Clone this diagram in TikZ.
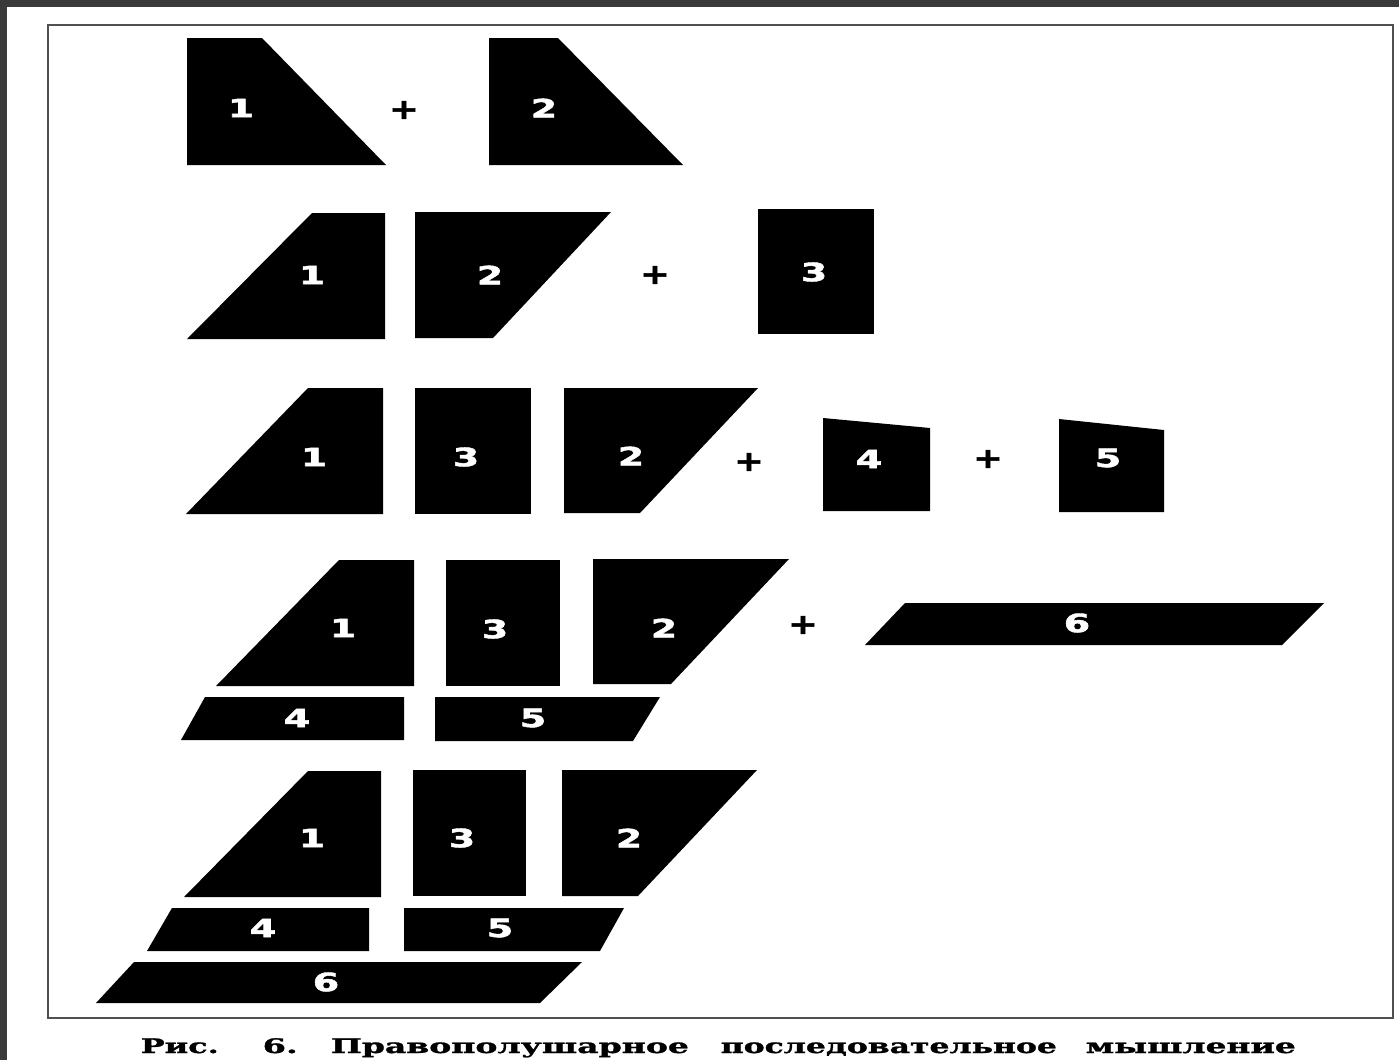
\documentclass[tikz,border=0pt]{standalone}
\usepackage{fontspec}
\usepackage{graphicx}
\newfontfamily\numfont{DejaVu Sans}[BoldFeatures={FakeBold=1.6}]
\newfontfamily\capfont{DejaVu Serif}[BoldFeatures={FakeBold=1.2}]
\definecolor{band}{HTML}{3A3A3A}
\definecolor{frameline}{HTML}{505050}
\tikzset{
  piece/.style={fill=black},
  lbl/.style={text=white, inner sep=0pt, font=\numfont\bfseries\fontsize{7.2pt}{8pt}\selectfont},
  plussign/.style={text=black, inner sep=0pt, font=\numfont\bfseries\fontsize{8pt}{9pt}\selectfont},
  capword/.style={anchor=base west, inner sep=0pt, font=\capfont\bfseries}
}
\newcommand\dg[1]{\scalebox{1.5}[1]{#1}}
\newcommand\pl{\scalebox{1.25}[1]{+}}
\newcommand\cw[2]{\resizebox{#1}{0.155cm}{\vphantom{Пб}#2}}
\begin{document}
\begin{tikzpicture}[x=0.01cm,y=-0.01cm]
\useasboundingbox (0,0) rectangle (1399,1060);
\fill[white] (0,0) rectangle (1399,1060);
% dark scan bands
\fill[band] (0,0) rectangle (1399,7);
\fill[band] (0,0) rectangle (7,1060);
% frame
\draw[frameline, line width=0.6pt] (48,25) rectangle (1393,1018);

% Row 1
\fill[piece] (187,38) -- (262,38) -- (386,165) -- (187,165) -- cycle;
\node[lbl] (a1) at (241,108) {\dg{1}};
\node[plussign] (ap1) at (404,110) {\pl};
\fill[piece] (489,38) -- (558,38) -- (683,165) -- (489,165) -- cycle;
\node[lbl] (a2) at (544,108) {\dg{2}};

% Row 2
\fill[piece] (312,213) -- (385,213) -- (385,339) -- (187,339) -- cycle;
\node[lbl] (b1) at (312,275) {\dg{1}};
\fill[piece] (415,212) -- (611,212) -- (493,338) -- (415,338) -- cycle;
\node[lbl] (b2) at (490,275) {\dg{2}};
\node[plussign] (bp1) at (655,275) {\pl};
\fill[piece] (758,209) -- (874,209) -- (874,334) -- (758,334) -- cycle;
\node[lbl] (b3) at (814,272) {\dg{3}};

% Row 3
\fill[piece] (308,388) -- (383,388) -- (383,514) -- (186,514) -- cycle;
\node[lbl] (c1) at (314,457) {\dg{1}};
\fill[piece] (415,388) -- (531,388) -- (531,514) -- (415,514) -- cycle;
\node[lbl] (c3) at (466,457) {\dg{3}};
\fill[piece] (564,388) -- (758,388) -- (640,513) -- (564,513) -- cycle;
\node[lbl] (c2) at (631,456) {\dg{2}};
\node[plussign] (cp1) at (749,462) {\pl};
\fill[piece] (823,418) -- (930,428) -- (930,511) -- (823,511) -- cycle;
\node[lbl] (c4) at (869,459) {\dg{4}};
\node[plussign] (cp2) at (988,459) {\pl};
\fill[piece] (1059,419) -- (1164,430) -- (1164,512) -- (1059,512) -- cycle;
\node[lbl] (c5) at (1108,458) {\dg{5}};

% Row 4
\fill[piece] (339,560) -- (414,560) -- (414,686) -- (216,686) -- cycle;
\node[lbl] (d1) at (343,628) {\dg{1}};
\fill[piece] (446,560) -- (560,560) -- (560,686) -- (446,686) -- cycle;
\node[lbl] (d3) at (495,629) {\dg{3}};
\fill[piece] (593,559) -- (789,559) -- (671,684) -- (593,684) -- cycle;
\node[lbl] (d2) at (664,628) {\dg{2}};
\node[plussign] (dp1) at (803,625) {\pl};
\fill[piece] (905,603) -- (1324,603) -- (1282,645) -- (865,645) -- cycle;
\node[lbl] (d6) at (1077,623) {\dg{6}};
\fill[piece] (205,697) -- (404,697) -- (404,740) -- (181,740) -- cycle;
\node[lbl] (d4) at (297,718) {\dg{4}};
\fill[piece] (435,697) -- (660,697) -- (633,741) -- (435,741) -- cycle;
\node[lbl] (d5) at (533,718) {\dg{5}};

% Row 5
\fill[piece] (308,771) -- (381,771) -- (381,897) -- (184,897) -- cycle;
\node[lbl] (e1) at (312,838) {\dg{1}};
\fill[piece] (413,770) -- (526,770) -- (526,896) -- (413,896) -- cycle;
\node[lbl] (e3) at (462,838) {\dg{3}};
\fill[piece] (562,770) -- (757,770) -- (638,896) -- (562,896) -- cycle;
\node[lbl] (e2) at (629,838) {\dg{2}};
\fill[piece] (172,908) -- (369,908) -- (369,951) -- (147,951) -- cycle;
\node[lbl] (e4) at (263,928) {\dg{4}};
\fill[piece] (404,908) -- (624,908) -- (600,951) -- (404,951) -- cycle;
\node[lbl] (e5) at (500,928) {\dg{5}};
\fill[piece] (134,962) -- (582,962) -- (540,1003) -- (96,1003) -- cycle;
\node[lbl] (e6) at (326,982) {\dg{6}};

% Caption
\node[capword] (w1) at (140,1053) {\cw{0.78cm}{Рис.}};
\node[capword] (w2) at (262,1053) {\cw{0.35cm}{6.}};
\node[capword] (w3) at (330,1053) {\cw{3.58cm}{Правополушарное}};
\node[capword] (w4) at (720,1053) {\cw{3.36cm}{последовательное}};
\node[capword] (w5) at (1085,1053) {\cw{2.10cm}{мышление}};
\end{tikzpicture}
\end{document}
